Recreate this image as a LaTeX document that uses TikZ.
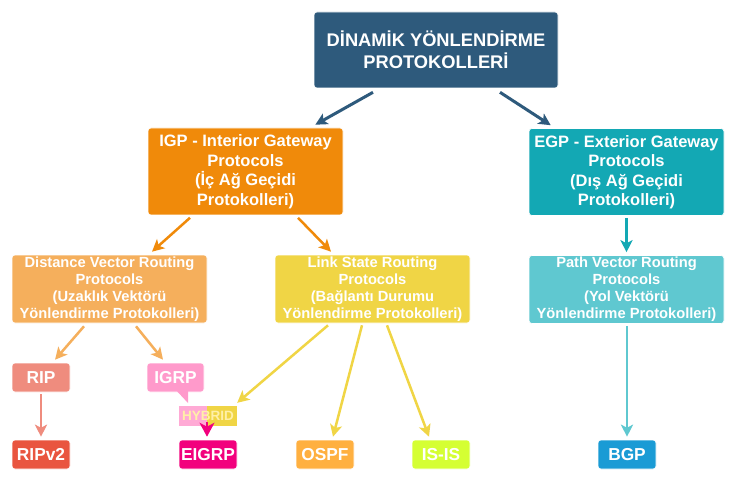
\documentclass[tikz,border=0pt]{standalone}
\usepackage{fontspec}
\setmainfont{Liberation Sans}
\usetikzlibrary{arrows.meta}
\definecolor{cTop}{HTML}{2E5A7C}
\definecolor{cIGP}{HTML}{F08A0A}
\definecolor{cEGP}{HTML}{13A8B4}
\definecolor{cDV}{HTML}{F5AF5C}
\definecolor{cLS}{HTML}{F0D545}
\definecolor{cPV}{HTML}{5FC8D0}
\definecolor{cRIP}{HTML}{EF8C7E}
\definecolor{cIGRP}{HTML}{FF9ACB}
\definecolor{cRIPv}{HTML}{E9553F}
\definecolor{cEIGRP}{HTML}{F2007D}
\definecolor{cOSPF}{HTML}{FFB040}
\definecolor{cISIS}{HTML}{D5FF33}
\definecolor{cBGP}{HTML}{1A9BD5}
\definecolor{cHybL}{HTML}{FFAAD5}
\definecolor{cHybT}{HTML}{FFF0A8}
\tikzset{
  box/.style={rounded corners=3pt, draw=white, line width=0.6pt, text=white,
    align=center, inner sep=0pt, font=\bfseries},
  bigbox/.style={box, minimum width=195pt, minimum height=87pt,
    font=\bfseries\fontsize{16.5}{19.5}\selectfont},
  midbox/.style={box, minimum width=195pt, minimum height=68pt,
    font=\bfseries\fontsize{14.7}{17}\selectfont},
  leaf/.style={box, minimum width=58pt, minimum height=29pt,
    font=\bfseries\fontsize{17.3}{18}\selectfont},
  arr/.style={line width=2.5pt, -{Stealth[length=12pt,width=12pt,inset=3pt]}},
}
\begin{document}
\begin{tikzpicture}[x=1pt,y=-1pt]
\useasboundingbox[fill=white] (0,0) rectangle (736,481);
% nodes
\node[box, fill=cTop, minimum width=244pt, minimum height=76pt,
  font=\bfseries\fontsize{18.3}{22}\selectfont] (top) at (436,50)
  {DİNAMİK YÖNLENDİRME\\PROTOKOLLERİ};
\node[bigbox, fill=cIGP] (igp) at (245.5,171.5)
  {IGP - Interior Gateway\\Protocols\\(İç Ağ Geçidi\\Protokolleri)};
\node[bigbox, fill=cEGP] (egp) at (626.5,172)
  {EGP - Exterior Gateway\\Protocols\\(Dış Ağ Geçidi\\Protokolleri)};
\node[midbox, fill=cDV] (dv) at (109.5,289)
  {Distance Vector Routing\\Protocols\\(Uzaklık Vektörü\\Yönlendirme Protokolleri)};
\node[midbox, fill=cLS] (ls) at (372.5,289)
  {Link State Routing\\Protocols\\(Bağlantı Durumu\\Yönlendirme Protokolleri)};
\node[midbox, fill=cPV] (pv) at (626.5,289.5)
  {Path Vector Routing\\Protocols\\(Yol Vektörü\\Yönlendirme Protokolleri)};
\node[leaf, fill=cRIP] (rip) at (41,377.5) {RIP};
\node[leaf, fill=cIGRP, minimum width=57pt] (igrp) at (175.5,377.5) {IGRP};
\fill[cIGRP] (177,391.2) -- (188,391.2) -- (188,403) -- cycle;
\node[leaf, fill=cRIPv] (ripv) at (41,454.5) {RIPv2};
\node[leaf, fill=cEIGRP] (eigrp) at (208,454.5) {EIGRP};
\node[leaf, fill=cOSPF] (ospf) at (325,454.5) {OSPF};
\node[leaf, fill=cISIS] (isis) at (441,454.5) {IS-IS};
\node[leaf, fill=cBGP] (bgp) at (627,454.5) {BGP};
% hybrid
\node[minimum width=58pt, minimum height=20pt, inner sep=0pt] (hyb) at (208,416) {};
\fill[cHybL] (hyb.north west) rectangle ([xshift=-1pt]hyb.south);
\fill[cLS] ([xshift=-1pt]hyb.north) rectangle (hyb.south east);
\node[text=cHybT, font=\bfseries\fontsize{13.5}{14}\selectfont, inner sep=0pt] (hybt) at (hyb.center) {HYBRID};
% connectors
\draw[arr, cTop, line width=3pt] ([xshift=-63pt,yshift=-4pt]top.south) -- ([xshift=-28pt,yshift=3pt]igp.north east);
\draw[arr, cTop, line width=3pt] ([xshift=64pt,yshift=-4pt]top.south) -- ([xshift=22pt,yshift=3pt]egp.north west);
\draw[arr, cIGP] ([xshift=-55.5pt,yshift=-2.5pt]igp.south) -- ([xshift=42.5pt,yshift=3pt]dv.north);
\draw[arr, cIGP] ([xshift=52.5pt,yshift=-2.5pt]igp.south) -- ([xshift=-41.5pt,yshift=3pt]ls.north);
\draw[arr, cEGP] ([yshift=-2pt]egp.south) -- ([yshift=3pt]pv.north);
\draw[arr, cDV] ([xshift=-25.5pt,yshift=-3pt]dv.south) -- ([xshift=14pt,yshift=3pt]rip.north);
\draw[arr, cDV] ([xshift=26.5pt,yshift=-3pt]dv.south) -- ([xshift=-12.5pt,yshift=3pt]igrp.north);
\draw[arr, cRIP] ([yshift=-2pt]rip.south) -- ([yshift=3pt]ripv.north);
\draw[arr, cLS] ([xshift=-44.5pt,yshift=-2pt]ls.south) -- ([yshift=3pt]hyb.north east);
\draw[arr, cLS] ([xshift=-10.5pt,yshift=-2pt]ls.south) -- ([xshift=8pt,yshift=3pt]ospf.north);
\draw[arr, cLS] ([xshift=14.5pt,yshift=-2pt]ls.south) -- ([xshift=-12pt,yshift=3pt]isis.north);
\draw[arr, cPV] ([xshift=0.5pt,yshift=-2pt]pv.south) -- ([yshift=3pt]bgp.north);
\draw[cEIGRP, line width=2pt, -{Stealth[length=14pt,width=15pt,inset=4pt]}] ([xshift=-1pt,yshift=4pt]hyb.south) -- ([xshift=-1pt,yshift=3pt]eigrp.north);
\end{tikzpicture}
\end{document}
